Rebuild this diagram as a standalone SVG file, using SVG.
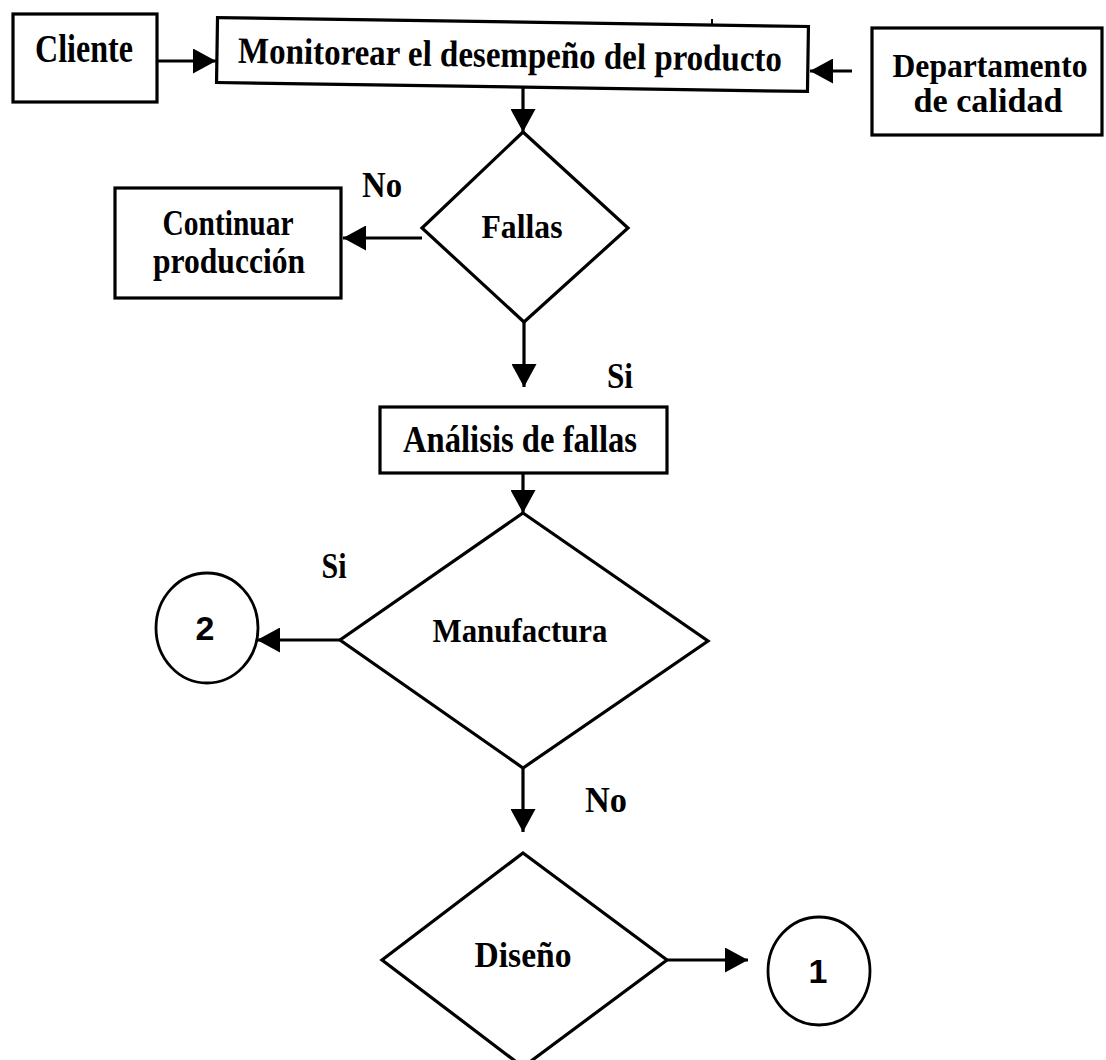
<svg xmlns="http://www.w3.org/2000/svg" width="1106" height="1060" viewBox="0 0 1106 1060">
<defs>
<style>
.box{fill:#fff;stroke:#000;stroke-width:3.2}
.shape{fill:#fff;stroke:#000;stroke-width:3.2;stroke-linejoin:miter}
.circ{fill:#fff;stroke:#000;stroke-width:2.8}
.t{font-family:"Liberation Serif","Times New Roman",serif;font-weight:bold;fill:#000;text-anchor:middle}
.s{font-family:"Liberation Sans",Arial,sans-serif;font-weight:bold;font-size:34px;fill:#000;text-anchor:middle}
.c{fill:none;stroke:#000;stroke-width:3.2}
</style>
<marker id="ah" markerWidth="23" markerHeight="25" refX="23" refY="12.5" orient="auto" markerUnits="userSpaceOnUse">
<path d="M0,0 L23,12.5 L0,25 z" fill="#000"/>
</marker>
</defs>
<rect width="1106" height="1060" fill="#fff"/>

<g id="cliente">
<rect class="box" x="13" y="14" width="144" height="88"/>
<text class="t" x="84" y="62" style="font-size:39px" textLength="98" lengthAdjust="spacingAndGlyphs">Cliente</text>
</g>

<g id="monitorear" transform="rotate(0.87 512 54)">
<rect class="box" x="217" y="22" width="591" height="65"/>
<text class="t" x="510" y="67" style="font-size:37px" textLength="544" lengthAdjust="spacingAndGlyphs">Monitorear el desempeño del producto</text>
</g>
<line x1="712" y1="19" x2="712" y2="25" stroke="#000" stroke-width="2"/>

<g id="departamento">
<rect class="box" x="872" y="28" width="230" height="107"/>
<text class="t" x="990" y="77" style="font-size:34px" textLength="195" lengthAdjust="spacingAndGlyphs">Departamento</text>
<text class="t" x="988" y="112" style="font-size:34px" textLength="149" lengthAdjust="spacingAndGlyphs">de calidad</text>
</g>

<g id="fallas">
<polygon class="shape" points="523,132 628,228 524,322 422,228"/>
<text class="t" x="522" y="238" style="font-size:33px" textLength="81" lengthAdjust="spacingAndGlyphs">Fallas</text>
</g>

<g id="continuar">
<rect class="box" x="115" y="188" width="226" height="110"/>
<text class="t" x="228" y="235" style="font-size:35px" textLength="131" lengthAdjust="spacingAndGlyphs">Continuar</text>
<text class="t" x="229" y="273" style="font-size:35px" textLength="152" lengthAdjust="spacingAndGlyphs">producción</text>
</g>

<g id="analisis">
<rect class="box" x="380" y="407" width="287" height="66"/>
<text class="t" x="520" y="452" style="font-size:37px" textLength="234" lengthAdjust="spacingAndGlyphs">Análisis de fallas</text>
</g>

<g id="manufactura">
<polygon class="shape" points="523,513 708,641 523,768 340,640"/>
<text class="t" x="520" y="642" style="font-size:34px" textLength="175" lengthAdjust="spacingAndGlyphs">Manufactura</text>
</g>

<g id="conector2">
<ellipse class="circ" cx="207" cy="628" rx="51" ry="55"/>
<text class="s" x="205" y="640">2</text>
</g>

<g id="diseno">
<polygon class="shape" points="523,853 667,960 523,1067 382,960"/>
<text class="t" x="523" y="967" style="font-size:35px" textLength="97" lengthAdjust="spacingAndGlyphs">Diseño</text>
</g>

<g id="conector1">
<ellipse class="circ" cx="819" cy="971" rx="51" ry="54"/>
<text class="s" x="818" y="983">1</text>
</g>

<g id="connectors">
<path class="c" d="M157,61 H216" marker-end="url(#ah)"/>
<path class="c" d="M852,71 H810" marker-end="url(#ah)"/>
<path class="c" d="M523,88 V132" marker-end="url(#ah)"/>
<path class="c" d="M422,238 H343" marker-end="url(#ah)"/>
<path class="c" d="M524,322 V387" marker-end="url(#ah)"/>
<path class="c" d="M523,473 V513" marker-end="url(#ah)"/>
<path class="c" d="M340,640 H257" marker-end="url(#ah)"/>
<path class="c" d="M523,768 V832" marker-end="url(#ah)"/>
<path class="c" d="M667,960 H748" marker-end="url(#ah)"/>
</g>

<g id="labels">
<text class="t" x="382" y="197" style="font-size:35px" textLength="40" lengthAdjust="spacingAndGlyphs">No</text>
<text class="t" x="620" y="388" style="font-size:35px" textLength="26" lengthAdjust="spacingAndGlyphs">Si</text>
<text class="t" x="334" y="578" style="font-size:35px" textLength="25" lengthAdjust="spacingAndGlyphs">Si</text>
<text class="t" x="606" y="812" style="font-size:35px" textLength="42" lengthAdjust="spacingAndGlyphs">No</text>
</g>
</svg>
